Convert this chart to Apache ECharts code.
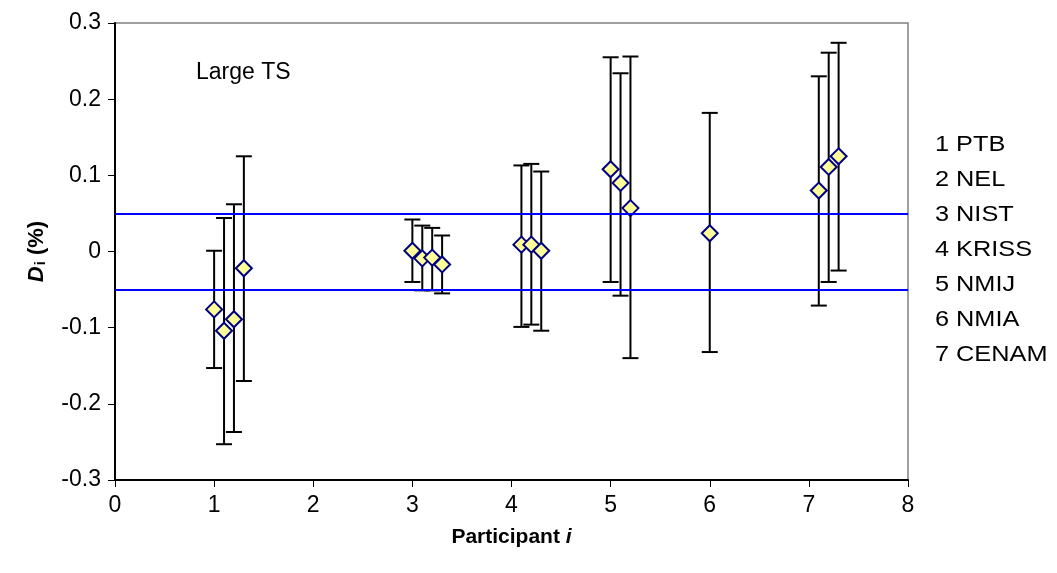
<!DOCTYPE html>
<html>
<head>
<meta charset="utf-8">
<script src="https://cdn.jsdelivr.net/npm/echarts@6/dist/echarts.min.js"></script>
<style>
html,body{margin:0;padding:0;background:#fff;}
#chart{width:1057px;height:573px;}
</style>
</head>
<body>
<div id="chart"></div>
<script>
// Data
const xPositions = [1.0, 1.1, 1.2, 1.3, 3.0, 3.1, 3.2, 3.3, 4.1, 4.2, 4.3, 5.0, 5.1, 5.2, 6.0, 7.1, 7.2, 7.3];
const diValues   = [-0.076, -0.104, -0.089, -0.022, 0.001, -0.009, -0.008, -0.017, 0.009, 0.009, 0.001, 0.108, 0.090, 0.057, 0.024, 0.080, 0.111, 0.125];
const upperVals  = [0.001, 0.044, 0.062, 0.125, 0.042, 0.034, 0.031, 0.021, 0.113, 0.115, 0.105, 0.255, 0.234, 0.256, 0.182, 0.230, 0.261, 0.274];
const lowerVals  = [-0.153, -0.253, -0.237, -0.170, -0.040, -0.051, -0.051, -0.055, -0.099, -0.096, -0.104, -0.040, -0.058, -0.140, -0.132, -0.071, -0.040, -0.025];
const limitLines = [0.05, -0.05];
const participantLabels = ['1 PTB', '2 NEL', '3 NIST', '4 KRISS', '5 NMIJ', '6 NMIA', '7 CENAM'];
const panelTitle = 'Large TS';
const xTicks = [0, 1, 2, 3, 4, 5, 6, 7, 8];
const yTicks = ['-0.3', '-0.2', '-0.1', '0', '0.1', '0.2', '0.3'];

const FONT = '"Liberation Sans", Arial, sans-serif';
const chart = echarts.init(document.getElementById('chart'), null, {renderer: 'canvas'});

const points = xPositions.map((x, i) => [x, diValues[i]]);
const errData = xPositions.map((x, i) => [x, lowerVals[i], upperVals[i]]);

const option = {
  animation: false,
  backgroundColor: '#ffffff',
  grid: {left: 115, top: 23, width: 793, height: 457, show: true, borderColor: '#808080', borderWidth: 1.5, backgroundColor: 'transparent'},
  xAxis: {
    type: 'value', min: 0, max: 8, interval: 1,
    name: '{b|Participant }{bi|i}', nameLocation: 'middle', nameGap: 47,
    nameTextStyle: {rich: {
      b: {fontFamily: FONT, fontSize: 21, fontWeight: 'bold', color: '#000'},
      bi: {fontFamily: FONT, fontSize: 21, fontWeight: 'bold', fontStyle: 'italic', color: '#000'}
    }},
    axisLine: {show: true, onZero: false, lineStyle: {color: '#000', width: 2}},
    axisTick: {show: true, inside: false, length: 7, lineStyle: {color: '#000', width: 1}},
    axisLabel: {fontFamily: FONT, fontSize: 23, color: '#000', margin: 14,
      formatter: v => String(xTicks[Math.round(v)])},
    splitLine: {show: false}
  },
  yAxis: {
    type: 'value', min: -0.3, max: 0.3, interval: 0.1,
    name: '{d|D}{s|i}{p| (%)}', nameLocation: 'middle', nameGap: 67, nameRotate: 90,
    nameTextStyle: {rich: {
      d: {fontFamily: FONT, fontSize: 22, fontWeight: 'bold', fontStyle: 'italic', color: '#000'},
      s: {fontFamily: FONT, fontSize: 15, fontWeight: 'bold', color: '#000', padding: [8, 0, 0, 1]},
      p: {fontFamily: FONT, fontSize: 22, fontWeight: 'bold', color: '#000'}
    }},
    axisLine: {show: true, onZero: false, lineStyle: {color: '#000', width: 2}},
    axisTick: {show: true, inside: false, length: 7, lineStyle: {color: '#000', width: 1}},
    axisLabel: {fontFamily: FONT, fontSize: 23, color: '#000', margin: 14,
      formatter: v => yTicks[Math.round((v + 0.3) * 10)]},
    splitLine: {show: false}
  },
  series: [
    {
      type: 'custom', z: 2,
      data: errData,
      renderItem: function (params, api) {
        const x = api.value(0);
        const lo = api.coord([x, api.value(1)]);
        const hi = api.coord([x, api.value(2)]);
        const cw = 8;
        const style = {stroke: '#000', lineWidth: 2};
        return {type: 'group', children: [
          {type: 'line', shape: {x1: lo[0], y1: lo[1], x2: hi[0], y2: hi[1]}, style: style},
          {type: 'line', shape: {x1: hi[0] - cw, y1: hi[1], x2: hi[0] + cw, y2: hi[1]}, style: style},
          {type: 'line', shape: {x1: lo[0] - cw, y1: lo[1], x2: lo[0] + cw, y2: lo[1]}, style: style}
        ]};
      }
    },
    {
      type: 'line', z: 3, data: [], symbol: 'none',
      markLine: {
        silent: true, symbol: ['none', 'none'], label: {show: false},
        lineStyle: {color: '#0000FF', width: 2, type: 'solid'},
        data: limitLines.map(v => ({yAxis: v}))
      }
    },
    {
      type: 'scatter', z: 4,
      data: points,
      symbol: 'diamond', symbolSize: 16,
      itemStyle: {color: '#FFFF99', borderColor: '#000080', borderWidth: 2, opacity: 1}
    }
  ],
  graphic: [
    {type: 'text', x: 196, y: 73, style: {text: panelTitle, font: '23px ' + FONT, fill: '#000', verticalAlign: 'middle'}}
  ].concat(participantLabels.map((t, i) => ({
    type: 'text', x: 935, y: 145 + i * 35, scaleX: 1.15, originX: 0, originY: 0,
    style: {text: t, font: '22px ' + FONT, fill: '#000', verticalAlign: 'middle', align: 'left'}
  })))
};
chart.setOption(option);
</script>
</body>
</html>
